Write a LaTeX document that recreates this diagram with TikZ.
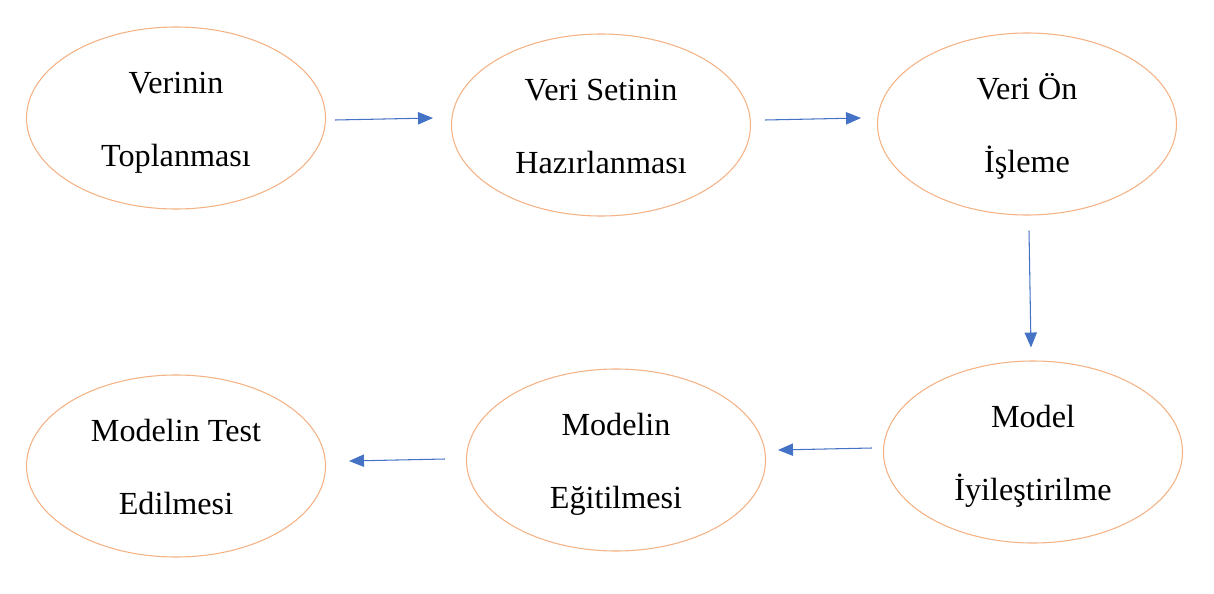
\documentclass[tikz,border=0pt]{standalone}
\usepackage{fontspec}
\setmainfont{Liberation Serif}
\usepackage{tikz}
\usetikzlibrary{shapes.geometric,arrows.meta}
\definecolor{stageorange}{HTML}{F4B183}
\definecolor{arrowblue}{HTML}{4472C4}
\begin{document}
\begin{tikzpicture}[x=0.2mm,y=-0.2mm]
					\tikzstyle{stage}=[ellipse,draw=stageorange,line width=0.6pt,minimum width=59.8mm,minimum height=36.4mm,inner sep=0pt,align=center,text height=55pt,text depth=0pt,font=\fontsize{18.3pt}{41.4pt}\selectfont]
					\tikzstyle{flow}=[draw=arrowblue,line width=0.6pt,-{Triangle[length=8.5pt,width=7pt]},arrowblue]
					\useasboundingbox (0,0) rectangle (1214,594);
					\node[stage](topla) at (176,118) {Verinin\\Toplanması};
					\node[stage](hazir) at (601,125) {Veri Setinin\\Hazırlanması};
					\node[stage](onisle) at (1027,124) {Veri Ön\\İşleme};
					\node[stage](iyiles) at (1033,452) {Model\\İyileştirilme};
					\node[stage](egitim) at (616,460) {Modelin\\Eğitilmesi};
					\node[stage](test) at (176,466) {Modelin Test\\Edilmesi};
					\draw[flow] ([shift={(9,2)}]topla.east) -- ([shift={(-18,-7)}]hazir.west);
					\draw[flow] ([shift={(14,-5)}]hazir.east) -- ([shift={(-16,-6)}]onisle.west);
					\draw[flow] ([shift={(2,15)}]onisle.south) -- ([shift={(-2,-13)}]iyiles.north);
					\draw[flow] ([shift={(-11,-4)}]iyiles.west) -- ([shift={(12,-10)}]egitim.east);
					\draw[flow] ([shift={(-21,-1)}]egitim.west) -- ([shift={(23,-5)}]test.east);
				\end{tikzpicture}
\end{document}
